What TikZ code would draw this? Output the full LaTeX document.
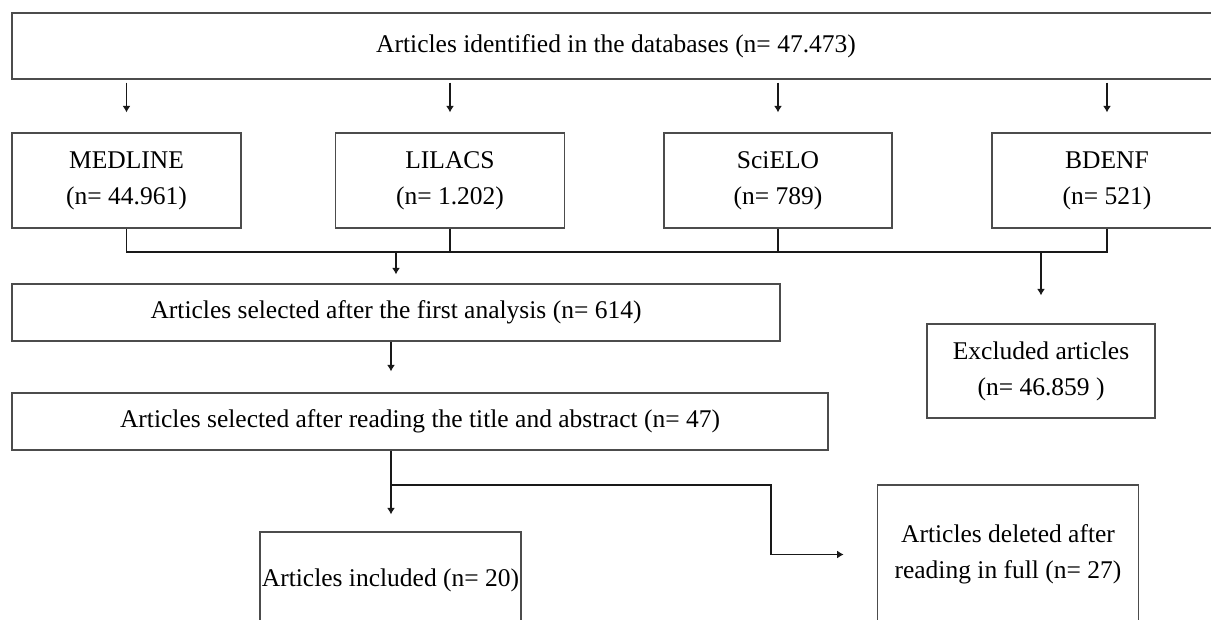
\documentclass[tikz,border=0pt]{standalone}
\usepackage{fontspec}
\setmainfont{Liberation Serif}
\usetikzlibrary{arrows.meta}
\tikzset{
  box/.style={draw=black!70, line width=1.2pt, fill=white, inner sep=0pt, align=center,
              font=\fontsize{25.5}{36}\selectfont},
  conn/.style={draw=black!90, line width=1.7pt},
  arr/.style={conn, -{Latex[length=6.5pt,width=8pt]}}
}
\begin{document}
\begin{tikzpicture}[x=1pt,y=-1pt]
\useasboundingbox (0,0) rectangle (1211,619);
\clip (0,0) rectangle (1211,619);
\fill[white] (0,0) rectangle (1211,619);
% nodes
\node[box, minimum width=1208, minimum height=66] (top) at (616,46) {Articles identified in the databases (n= 47.473)};
\node[box, minimum width=229, minimum height=95] (medline) at (126.5,180.5) {MEDLINE\\(n= 44.961)};
\node[box, minimum width=229, minimum height=95] (lilacs) at (450,180.5) {LILACS\\(n= 1.202)};
\node[box, minimum width=228, minimum height=95] (scielo) at (778,180.5) {SciELO\\(n= 789)};
\node[box, minimum width=230, minimum height=95] (bdenf) at (1107,180.5) {BDENF\\(n= 521)};
\node[box, minimum width=768, minimum height=57] (first) at (396,312.5) {Articles selected after the first analysis (n= 614)};
\node[box, minimum width=816, minimum height=57] (second) at (420,421.5) {Articles selected after reading the title and abstract (n= 47)};
\node[box, minimum width=228, minimum height=94] (excluded) at (1041,371) {Excluded articles\\(n= 46.859 )};
\node[box, minimum width=261, minimum height=96] (included) at (390.5,580) {Articles included (n= 20)};
\node[box, minimum width=261.5, minimum height=139] (deleted) at (1008,554.5) {Articles deleted after\\reading in full (n= 27)};
% coordinates
\coordinate (bus) at (0,252);
\coordinate (br) at (391,485);
\coordinate (elbow) at (771,485);
% arrows from top box
\foreach \n in {medline,lilacs,scielo,bdenf}{
  \draw[arr, shorten <=3pt, shorten >=20pt] (top.south -| \n.north) -- (\n.north);
}
% merging bus
\draw[conn] (medline.south) -- (medline.south |- bus) -- (bdenf.south |- bus) -- (bdenf.south);
\draw[conn] (lilacs.south) -- (lilacs.south |- bus);
\draw[conn] (scielo.south) -- (scielo.south |- bus);
\draw[arr, shorten >=9pt] (first.north |- bus) -- (first.north);
\draw[arr, shorten >=28pt] (excluded.north |- bus) -- (excluded.north);
% first -> second
\draw[arr, shorten >=21pt] (first.south -| br) -- (second.north -| br);
% second -> included / deleted
\draw[arr, shorten >=17pt] (second.south -| br) -- (included.north -| br);
\draw[arr, shorten >=33pt] (br) -- (elbow) |- (deleted.west);
\end{tikzpicture}
\end{document}
